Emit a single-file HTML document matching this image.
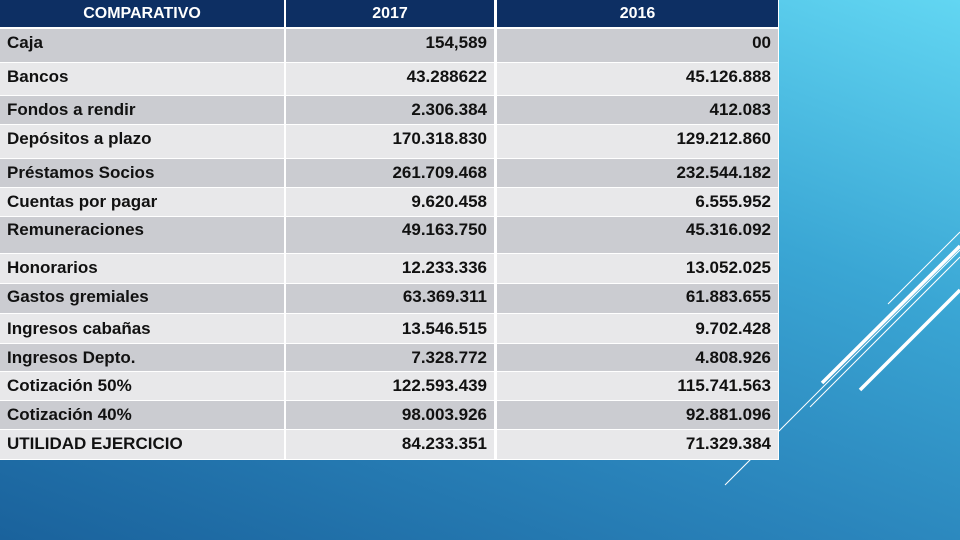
<!DOCTYPE html>
<html><head><meta charset="utf-8"><style>
body{margin:0;width:960px;height:540px;overflow:hidden;position:relative;font-family:"Liberation Sans",sans-serif;
background:linear-gradient(200deg,#62d6f2 0%,#3aa6d4 35%,#2a84bb 65%,#1a629c 100%);}
.c{position:absolute;box-sizing:border-box;font-weight:bold;font-size:17px;color:#111;}
.h{background:#0d2f63;color:#fff;text-align:center;font-size:16px;}
.d{background:#cbccd1}.l{background:#e8e8ea}
.t{position:absolute;transform:translateY(-50%);white-space:nowrap}
#tbl{position:absolute;left:0;top:0;width:779px;height:460px;background:#fff}
</style></head><body>
<svg width="960" height="540" style="position:absolute;left:0;top:0">
<line x1="822" y1="383" x2="960" y2="246" stroke="#fff" stroke-width="3.5"/>
<line x1="860" y1="390" x2="960" y2="290" stroke="#fff" stroke-width="3.5"/>
<line x1="888" y1="304" x2="960" y2="232" stroke="#fff" stroke-width="1"/>
<line x1="725" y1="485" x2="960" y2="250" stroke="#fff" stroke-width="1"/>
<line x1="810" y1="407" x2="960" y2="257" stroke="#fff" stroke-width="1"/>
</svg>
<div id="tbl"></div>
<script>
const labels=["Caja","Bancos","Fondos a rendir","Depósitos a plazo","Préstamos  Socios","Cuentas por pagar","Remuneraciones","Honorarios","Gastos gremiales","Ingresos cabañas","Ingresos Depto.","Cotización 50%","Cotización 40%","UTILIDAD EJERCICIO"];
const v2017=["154,589","43.288622","2.306.384","170.318.830","261.709.468","9.620.458","49.163.750","12.233.336","63.369.311","13.546.515","7.328.772","122.593.439","98.003.926","84.233.351"];
const v2016=["00","45.126.888","412.083","129.212.860","232.544.182","6.555.952","45.316.092","13.052.025","61.883.655","9.702.428","4.808.926","115.741.563","92.881.096","71.329.384"];
const tops=[29,63,96,125,159,188,217,254,284,314,344,372,401,430,460];
const textY=[43,77,110,139,173,202,230,268,297,329,358,386,415,444];
const cols=[[0,284],[286,494],[497,778]];
const tbl=document.getElementById('tbl');
function cell(x,y,w,h,cls,txt,ty,align,name){
  const d=document.createElement('div');d.className='c '+cls;
  
  
  d.style.cssText=`left:${x}px;top:${y}px;width:${w}px;height:${h}px`;
  const s=document.createElement('span');s.className='t';s.textContent=txt;
  s.style.top=(ty-y)+'px';
  if(align==='l')s.style.left='7px';else if(align==='r')s.style.right='7px';else{s.style.left='50%';s.style.transform='translate(-50%,-50%)';}
  d.appendChild(s);tbl.appendChild(d);
}
const hd=["COMPARATIVO","2017","2016"];
cols.forEach((c,i)=>cell(c[0],0,c[1]-c[0],27,'h',hd[i],14,'c','header-'+hd[i].toLowerCase()));
labels.forEach((lab,i)=>{
  const y=tops[i],h=tops[i+1]-tops[i]-1,cls=i%2?'l':'d';
  cell(cols[0][0],y,cols[0][1]-cols[0][0],h,cls,lab,textY[i],'l','row-label');
  cell(cols[1][0],y,cols[1][1]-cols[1][0],h,cls,v2017[i],textY[i],'r','value-2017');
  cell(cols[2][0],y,cols[2][1]-cols[2][0],h,cls,v2016[i],textY[i],'r','value-2016');
});
</script>
</body></html>
